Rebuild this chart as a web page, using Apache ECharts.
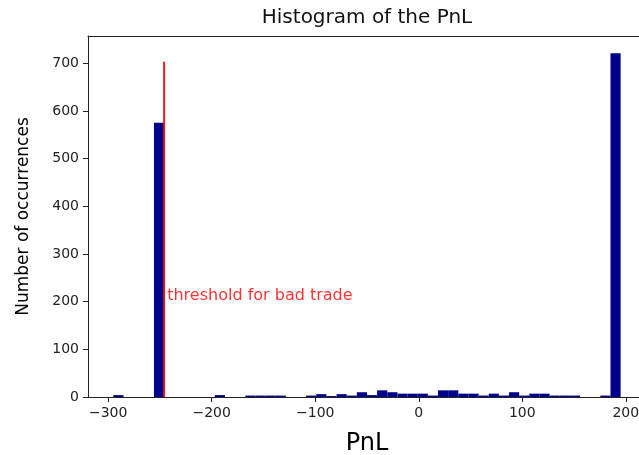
<!DOCTYPE html>
<html>
<head>
<meta charset="utf-8">
<title>Histogram of the PnL</title>
<script src="https://cdn.jsdelivr.net/npm/echarts@6/dist/echarts.min.js"></script>
<style>
html,body{margin:0;padding:0;background:#fff;}
#main{width:639px;height:455px;}
</style>
</head>
<body>
<div id="main"></div>
<script>
// 直方图数据 (50 bins)
var binStart=-295;
var binWidth=9.8;
var counts=[4,0,0,0,575,0,0,0,0,0,
            4,0,0,3,3,3,3,0,0,3,
            6,2,6,3,10,4,14,10,7,7,
            7,3,14,14,7,7,3,7,3,10,
            3,7,7,3,3,3,0,0,3,721];
var xTicks=[-300,-200,-100,0,100,200];
var yTicks=[0,100,200,300,400,500,600,700];
var thresholdX=[-246,-246];
var thresholdY=[0,703];
var thresholdText='threshold for bad trade';
var thresholdTextPos=[-243,200];

var fontFamily='"DejaVu Sans", sans-serif';

function buildBins() {
    var res=[];
    for(var i=0;i<counts.length;i++){
        var a=binStart+binWidth*i;
        res.push([a,a+binWidth,counts[i]]);
    };
    return res;
}

function renderBin(params,api) {
    var p0=api.coord([api.value(0),api.value(2)]);
    var p1=api.coord([api.value(1),0]);
    return {
        type:'rect',
        shape:{x:p0[0],y:p0[1],width:p1[0]-p0[0],height:p1[1]-p0[1]},
        style:{fill:'#00008b'}
    };
}

function drawChart(id) {
    var myChart=echarts.init(document.getElementById(id),null,{renderer:'canvas'});
    var line=[];
    for(var i=0;i<thresholdX.length;i++){
        line.push([thresholdX[i],thresholdY[i]]);
    };
    var option={
        animation:false,
        backgroundColor:'#fff',
        textStyle:{fontFamily:fontFamily},
        title:{
            text:'Histogram of the PnL',
            left:367,
            top:8,
            textAlign:'center',
            padding:0,
            textStyle:{fontFamily:fontFamily,fontSize:20,fontWeight:'normal',color:'#111'}
        },
        grid:{left:88,right:-7,top:36,bottom:58,containLabel:false,outerBoundsMode:'none'},
        xAxis:[{
            type:'value',
            min:-319.5,
            max:219.5,
            name:'PnL',
            nameLocation:'middle',
            nameGap:35,
            nameTextStyle:{fontFamily:fontFamily,fontSize:24,color:'#000'},
            axisLine:{show:true,onZero:false,lineStyle:{color:'#222',width:1}},
            axisTick:{show:true,length:5,customValues:xTicks,lineStyle:{color:'#222'}},
            axisLabel:{margin:9,fontSize:14,color:'#222',fontFamily:fontFamily,customValues:xTicks,
                formatter:function(v){return v<0?'\u2212'+Math.abs(v):String(v);}},
            splitLine:{show:false}
        },{
            type:'value',
            position:'top',
            min:-319.5,
            max:219.5,
            axisLine:{show:true,onZero:false,lineStyle:{color:'#222',width:1}},
            axisTick:{show:false},
            axisLabel:{show:false},
            splitLine:{show:false}
        }],
        yAxis:{
            type:'value',
            min:0,
            max:757,
            name:'Number of occurrences',
            nameLocation:'middle',
            nameGap:56,
            nameTextStyle:{fontFamily:fontFamily,fontSize:17,color:'#000'},
            axisLine:{show:true,onZero:false,lineStyle:{color:'#222',width:1}},
            axisTick:{show:true,length:5,customValues:yTicks,lineStyle:{color:'#222'}},
            axisLabel:{margin:9,fontSize:14,color:'#222',fontFamily:fontFamily,customValues:yTicks},
            splitLine:{show:false}
        },
        series:[{
            type:'custom',
            renderItem:renderBin,
            encode:{x:[0,1],y:2},
            data:buildBins(),
            clip:true,
            z:2
        },{
            type:'line',
            data:line,
            symbol:'none',
            lineStyle:{color:'rgba(255,0,0,0.9)',width:2},
            z:3
        },{
            type:'scatter',
            data:[thresholdTextPos],
            symbolSize:0,
            label:{
                show:true,
                position:[0,0],
                align:'left',
                verticalAlign:'bottom',
                offset:[0,2],
                formatter:thresholdText,
                fontFamily:fontFamily,
                fontSize:16,
                color:'#ff0000'
            },
            z:4
        }]
    };
    myChart.setOption(option);
}

drawChart('main');
</script>
</body>
</html>
